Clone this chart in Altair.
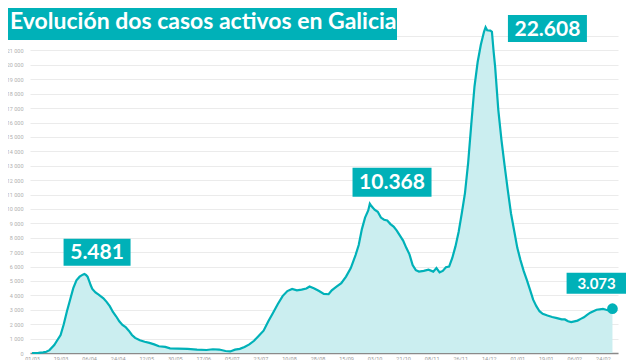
import altair as alt
import pandas as pd

TEAL = "#00b1b8"
FILL = "#cbeef0"

dates = [
    "2020-03-01", "2020-03-05", "2020-03-08", "2020-03-10", "2020-03-12", "2020-03-15",
    "2020-03-17", "2020-03-19", "2020-03-21", "2020-03-23", "2020-03-25", "2020-03-27",
    "2020-03-29", "2020-03-31", "2020-04-02", "2020-04-03", "2020-04-04", "2020-04-05",
    "2020-04-06", "2020-04-07", "2020-04-08", "2020-04-10", "2020-04-12", "2020-04-15",
    "2020-04-17", "2020-04-19", "2020-04-21", "2020-04-23", "2020-04-25", "2020-04-27",
    "2020-04-29", "2020-05-01", "2020-05-03", "2020-05-05", "2020-05-08", "2020-05-11",
    "2020-05-14", "2020-05-17", "2020-05-20", "2020-05-24", "2020-05-27", "2020-06-01",
    "2020-06-07", "2020-06-13", "2020-06-19", "2020-06-23", "2020-06-27", "2020-07-01",
    "2020-07-04", "2020-07-07", "2020-07-10", "2020-07-13", "2020-07-16", "2020-07-19",
    "2020-07-22", "2020-07-25", "2020-07-28", "2020-07-31", "2020-08-03", "2020-08-06",
    "2020-08-09", "2020-08-12", "2020-08-15", "2020-08-18", "2020-08-21", "2020-08-23",
    "2020-08-26", "2020-08-29", "2020-09-01", "2020-09-04", "2020-09-06", "2020-09-09",
    "2020-09-12", "2020-09-15", "2020-09-18", "2020-09-21", "2020-09-23", "2020-09-25",
    "2020-09-27", "2020-09-29", "2020-09-30", "2020-10-01", "2020-10-03", "2020-10-05",
    "2020-10-07", "2020-10-09", "2020-10-11", "2020-10-13", "2020-10-15", "2020-10-17",
    "2020-10-19", "2020-10-21", "2020-10-23", "2020-10-25", "2020-10-27", "2020-10-29",
    "2020-10-31", "2020-11-03", "2020-11-06", "2020-11-09", "2020-11-11", "2020-11-13",
    "2020-11-15", "2020-11-17", "2020-11-19", "2020-11-21", "2020-11-23", "2020-11-25",
    "2020-11-27", "2020-11-29", "2020-12-01", "2020-12-03", "2020-12-05", "2020-12-07",
    "2020-12-09", "2020-12-11", "2020-12-12", "2020-12-13", "2020-12-15", "2020-12-16",
    "2020-12-17", "2020-12-18", "2020-12-20", "2020-12-22", "2020-12-24", "2020-12-26",
    "2020-12-28", "2020-12-30", "2021-01-01", "2021-01-03", "2021-01-05", "2021-01-07",
    "2021-01-09", "2021-01-11", "2021-01-13", "2021-01-15", "2021-01-17", "2021-01-20",
    "2021-01-23", "2021-01-26", "2021-01-29", "2021-01-31", "2021-02-02", "2021-02-04",
    "2021-02-06", "2021-02-08", "2021-02-10", "2021-02-12", "2021-02-14", "2021-02-16",
    "2021-02-18", "2021-02-20", "2021-02-22", "2021-02-24", "2021-02-26", "2021-02-28",
    "2021-03-02",
]
values = [
    0, 10, 40, 90, 200, 550,
    900, 1250, 2000, 2900, 3700, 4500,
    5050, 5300, 5440, 5481, 5420, 5300,
    5000, 4700, 4450, 4200, 4050, 3800,
    3550, 3250, 2850, 2550, 2200, 1950,
    1800, 1550, 1250, 1050, 880, 780,
    700, 600, 470, 420, 320, 300,
    290, 230, 210, 260, 240, 140,
    110, 230, 290, 420, 600, 850,
    1200, 1550, 2200, 2800, 3400, 3950,
    4300, 4450, 4350, 4400, 4480, 4620,
    4480, 4300, 4100, 4080, 4350, 4600,
    4850, 5300, 5900, 6800, 7500, 8600,
    9400, 9900, 10368, 10200, 9950, 9800,
    9400, 9250, 9200, 8950, 8780, 8500,
    8150, 7800, 7300, 6850, 6100, 5750,
    5650, 5700, 5780, 5650, 5900, 5600,
    5700, 5950, 6000, 6600, 7400, 8400,
    9700, 11100, 13200, 15900, 18500, 20200,
    21400, 22300, 22608, 22400, 22380, 22300,
    21000, 19900, 16900, 14800, 13000, 11300,
    9700, 8500, 7300, 6450, 5700, 5080,
    4400, 3700, 3250, 2900, 2720, 2600,
    2500, 2420, 2330, 2330, 2200, 2150,
    2200, 2250, 2370, 2480, 2650, 2800,
    2900, 3000, 3030, 3060, 3000, 2950,
    3073,
]

tick_dates = [
    (2020, 3, 1), (2020, 3, 19), (2020, 4, 6), (2020, 4, 24), (2020, 5, 12),
    (2020, 5, 30), (2020, 6, 17), (2020, 7, 5), (2020, 7, 23), (2020, 8, 10),
    (2020, 8, 28), (2020, 9, 15), (2020, 10, 3), (2020, 10, 21), (2020, 11, 8),
    (2020, 11, 26), (2020, 12, 14), (2021, 1, 1), (2021, 1, 19), (2021, 2, 6),
    (2021, 2, 24),
]
y_ticks = list(range(0, 23000, 1000))

ann_dates = ["2020-04-11", "2020-10-14", "2021-01-20", "2021-02-20"]
ann_values = [6990, 11845, 22525, 4840]
ann_labels = ["5.481", "10.368", "22.608", "3.073"]

title_text = "Evolución dos casos activos en Galicia"

df = pd.DataFrame({"fecha": dates, "casos": values})
last = df.tail(1)

x_dom = [
    alt.DateTime(year=2020, month=2, date=28, hours=17, utc=True),
    alt.DateTime(year=2021, month=3, date=5, hours=12, utc=True),
]

x_enc = alt.X(
    "fecha:T",
    scale=alt.Scale(type="utc", domain=x_dom),
    axis=alt.Axis(
        values=[alt.DateTime(year=y, month=m, date=d, utc=True) for (y, m, d) in tick_dates],
        format="%d/%m",
        title=None,
        grid=False,
        ticks=False,
        domainColor="#8a8a8a",
        domainWidth=1.5,
        labelColor="#9a9a9a",
        labelFontSize=5.5,
        labelFont="Roboto",
        labelPadding=3,
        labelOverlap=False,
        labelFlush=False,
    ),
)
y_enc = alt.Y(
    "casos:Q",
    scale=alt.Scale(domain=[0, 22700], nice=False),
    axis=alt.Axis(
        values=y_ticks,
        labelExpr="datum.value > 21000 ? '' : replace(format(datum.value, ','), ',', ' ')",
        title=None,
        domain=False,
        ticks=False,
        gridColor="#ebebeb",
        gridWidth=1,
        labelColor="#b0b0b0",
        labelFontSize=5.5,
        labelFont="Roboto",
        labelPadding=7,
        labelOverlap=False,
        labelFlush=False,
    ),
)

base = alt.Chart(df)
area = base.mark_area(color=FILL).encode(x=x_enc, y=y_enc)
line = base.mark_line(color=TEAL, strokeWidth=2.2).encode(x=x_enc, y=y_enc)
dot = alt.Chart(last).mark_circle(color=TEAL, opacity=1, size=115).encode(x=x_enc, y=y_enc)


def annotation(i, w, h, fs):
    d = pd.DataFrame({"fecha": [ann_dates[i]], "casos": [ann_values[i]], "label": [ann_labels[i]]})
    c = alt.Chart(d)
    box = c.mark_rect(color=TEAL, width=w, height=h).encode(x=x_enc, y=y_enc)
    txt = c.mark_text(
        color="white", font="Lato", fontWeight="bold", fontSize=fs,
        align="center", baseline="middle", dy=1,
    ).encode(x=x_enc, y=y_enc, text="label:N")
    return [box, txt]


ann_layers = []
ann_layers += annotation(0, 67, 27, 21)
ann_layers += annotation(1, 79, 29, 21)
ann_layers += annotation(2, 79, 27, 21)
ann_layers += annotation(3, 60, 21, 15)

tdata = alt.Data(values=[{"t": title_text}])
title_box = alt.Chart(tdata).mark_rect(color=TEAL).encode(
    x=alt.value(-22), x2=alt.value(367), y=alt.value(-18), y2=alt.value(14)
)
title_txt = alt.Chart(tdata).mark_text(
    color="white", font="Lato", fontWeight="bold", fontSize=23,
    align="left", baseline="alphabetic",
).encode(x=alt.value(-20), y=alt.value(3), text="t:N")

chart = alt.layer(area, line, dot, *ann_layers, title_box, title_txt).properties(
    width=588,
    height=327,
    autosize=alt.AutoSizeParams(type="none"),
    padding={"left": 22, "top": 18, "right": 8, "bottom": 20},
).configure_view(stroke=None)

chart.save("out.html", embed_options={"renderer": "svg", "actions": False})
